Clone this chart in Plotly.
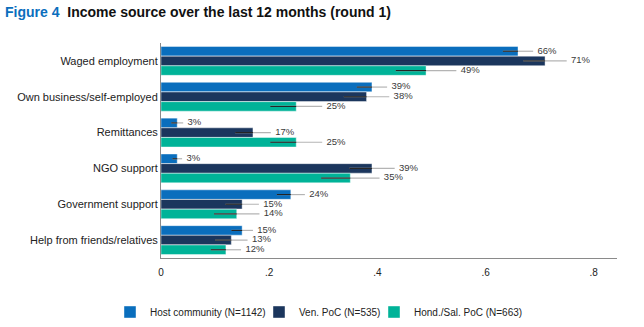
import plotly.graph_objects as go

# Income sources (share of households), with 95% confidence half-widths
categories = ["Waged employment", "Own business/self-employed", "Remittances",
              "NGO support", "Government support", "Help from friends/relatives"]

host_vals = [0.66, 0.39, 0.03, 0.03, 0.24, 0.15]
ven_vals = [0.71, 0.38, 0.17, 0.39, 0.15, 0.13]
hond_vals = [0.49, 0.25, 0.25, 0.35, 0.14, 0.12]

host_ci = [0.028, 0.028, 0.011, 0.009, 0.026, 0.020]
ven_ci = [0.040, 0.042, 0.033, 0.042, 0.031, 0.030]
hond_ci = [0.056, 0.048, 0.048, 0.054, 0.042, 0.028]

series_names = ["Host community (N=1142)", "Ven. PoC (N=535)", "Hond./Sal. PoC (N=663)"]
colors = ["#0a6ebd", "#1b365d", "#00b398"]

x_ticks = [0, 0.2, 0.4, 0.6, 0.8]
x_tick_text = ["0", ".2", ".4", ".6", ".8"]

series = [host_vals, ven_vals, hond_vals]
cis = [host_ci, ven_ci, hond_ci]
offsets = [-0.27, 0.0, 0.27]
bar_w = 0.265
legend_ids = ["legend", "legend2", "legend3"]
legend_left_px = [110, 259, 374]

PLOT_L, PLOT_W, PLOT_T, PLOT_H = 161, 456, 43, 215

fig = go.Figure()
idx = list(range(len(categories)))

for vals, ci, name, col, off, lg in zip(series, cis, series_names, colors, offsets, legend_ids):
    ys = [i + off for i in idx]
    fig.add_trace(go.Bar(
        x=vals, y=ys, orientation="h", width=bar_w, name=name, legend=lg,
        marker=dict(color=col, line=dict(color="rgba(255,255,255,0.7)", width=0.6)),
        hoverinfo="skip",
    ))
    # full confidence interval, light grey
    fig.add_trace(go.Scatter(
        x=vals, y=ys, mode="markers", marker=dict(size=0.1, opacity=0),
        error_x=dict(type="data", array=ci, arrayminus=ci, color="#b4b4b4",
                     thickness=1.2, width=0),
        showlegend=False, hoverinfo="skip",
    ))
    # lower part of the interval, drawn dark over the bar
    fig.add_trace(go.Scatter(
        x=vals, y=ys, mode="markers", marker=dict(size=0.1, opacity=0),
        error_x=dict(type="data", array=[0] * len(ci), arrayminus=ci,
                     color="#1a1a1a", thickness=1.0, width=0),
        showlegend=False, hoverinfo="skip",
    ))
    # value labels just past the interval
    fig.add_trace(go.Scatter(
        x=[v + c + 0.008 for v, c in zip(vals, ci)], y=ys, mode="text",
        text=[f"{round(v * 100):d}%" for v in vals],
        textposition="middle right",
        textfont=dict(family="Liberation Sans, Arial", size=9.5, color="#3a3a3a"),
        showlegend=False, hoverinfo="skip",
    ))

legend_common = dict(orientation="h", y=-54 / PLOT_H, yanchor="middle", xanchor="left",
                     font=dict(size=10, color="#222"), itemwidth=30,
                     bgcolor="rgba(0,0,0,0)")
legends = {lg: dict(legend_common, x=(px - PLOT_L) / PLOT_W)
           for lg, px in zip(legend_ids, legend_left_px)}

fig.update_layout(
    width=644, height=327,
    margin=dict(l=PLOT_L, r=644 - PLOT_L - PLOT_W, t=PLOT_T, b=327 - PLOT_T - PLOT_H,
                autoexpand=False),
    plot_bgcolor="white", paper_bgcolor="white",
    barmode="overlay",
    font=dict(family="Liberation Sans, Arial", size=11, color="#222"),
    xaxis=dict(range=[0, 0.843], tickvals=x_ticks, ticktext=x_tick_text,
               showgrid=False, zeroline=False, showline=True,
               linecolor="#8a8a8a", linewidth=1, ticks="outside", ticklen=5,
               tickcolor="rgba(0,0,0,0)",
               tickfont=dict(size=10, color="#222")),
    yaxis=dict(range=[5.5, -0.5], tickvals=idx, ticktext=categories,
               showgrid=False, zeroline=False, showline=True,
               linecolor="#8a8a8a", linewidth=1, ticks="",
               tickfont=dict(size=11, color="#222")),
    annotations=[dict(
        text="<b><span style='color:#0a6ebd'>Figure 4</span>  Income source over the last 12 months (round 1)</b>",
        xref="paper", yref="paper", x=-(PLOT_L - 3) / PLOT_W, y=1 + 31 / PLOT_H,
        xanchor="left", yanchor="middle", showarrow=False,
        font=dict(family="Liberation Sans, Arial", size=14, color="#111"),
    )],
    **legends,
)

fig.write_html("out.html")
